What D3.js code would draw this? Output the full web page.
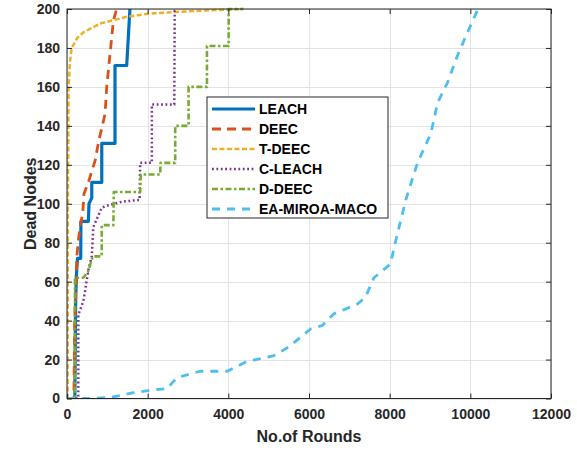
<!DOCTYPE html>
<html>
<head>
<meta charset="utf-8">
<script src="https://cdn.jsdelivr.net/npm/d3@7"></script>
<style>
  body { margin: 0; background: #fff; }
  svg { display: block; font-family: "Liberation Sans", Arial, sans-serif; }
  .tick text { font-size: 14px; font-weight: bold; fill: #262626; }
  .axis-label { font-size: 16px; font-weight: bold; fill: #262626; }
  .legend-label { font-size: 14px; font-weight: bold; fill: #000; }
</style>
</head>
<body>
<div id="draw-space"></div>
<script>
// dead nodes vs rounds
const seriesNames = ['LEACH', 'DEEC', 'T-DEEC', 'C-LEACH', 'D-DEEC', 'EA-MIROA-MACO'];

const leach = [[0,0],[195,0],[205,30],[215,50],[230,62],[260,72],[340,72],[345,91],[530,91],[545,100],
  [614,103],[614,111],[862,111],[862,131],[1190,131],[1190,171],[1480,171],[1560,200]];

const deec = [[0,0],[170,0],[190,40],[230,62],[240,72],[280,81],[340,90],[390,95],[420,105],[530,111],
  [695,122],[795,133],[886,141],[943,146],[985,160],[1150,194],[1230,200]];

const tdeec = [[0,0],[15,0],[22,100],[40,160],[70,172],[117,180],[250,185],[405,188],[820,192.5],
  [1480,196],[2060,197.7],[2700,198.5],[3500,199.3],[4370,200]];

const cleach = [[0,0],[280,0],[281,43],[405,50],[447,55],[529,66],[614,73],[653,88],[862,98],[986,99],
  [1359,101],[1800,102],[1814,121],[2104,121],[2104,151],[2660,151],[2670,199],[2720,200]];

const ddeec = [[0,0],[190,0],[199,62],[405,62],[520,65],[640,73],[860,73],[862,89],[1150,89],[1160,106],
  [1814,106],[1830,115],[2310,115],[2320,121],[2683,121],[2683,140],[3014,140],[3014,160],[3470,160],
  [3470,181],[4008,181],[4008,200],[4370,200]];

const eaMiroa = [[0,0],[500,0],[1070,0.5],[1650,3],[2150,4.5],[2480,5],[2720,10.7],[3300,14],[3970,14],
  [4460,19],[5130,22],[5500,26.5],[6040,35.7],[6330,37.5],[6620,43.5],[7200,48.5],[7400,52],[7610,62],
  [8020,69],[8150,81],[8400,102],[8690,121],[9020,136],[9190,152],[9430,162],[9680,176],[9930,188],
  [10180,199.5],[10300,200]];

const xTicks = [0, 2000, 4000, 6000, 8000, 10000, 12000];
const yTicks = [0, 20, 40, 60, 80, 100, 120, 140, 160, 180, 200];

const allSeries = [leach, deec, tdeec, cleach, ddeec, eaMiroa];
const colors = ['#0072BD', '#D95319', '#EDB120', '#7E2F8E', '#77AC30', '#4DBEEE'];
const widths = [3.2, 2.8, 2.5, 2.5, 2.6, 2.8];
const dashes = ['none', '9,6', '5,2.5', '1.8,2.6', '6,2.5,2.5,2.5', '8,7'];

const W = 577, H = 450;
const margin = {left: 67, right: 26, top: 9, bottom: 52};

const svg = d3.select('#draw-space').append('svg')
              .attr('width', W)
              .attr('height', H);

const xScale = d3.scaleLinear()
                 .domain([0, 12000])
                 .range([margin.left, W - margin.right]);

const yScale = d3.scaleLinear()
                 .domain([0, 200])
                 .range([H - margin.bottom + 0.5, margin.top]);

// grid
svg.append('g')
   .selectAll('line')
   .data(xTicks)
   .enter()
   .append('line')
     .attr('x1', d => Math.round(xScale(d)) + 0.5)
     .attr('x2', d => Math.round(xScale(d)) + 0.5)
     .attr('y1', yScale(0))
     .attr('y2', yScale(200))
     .attr('stroke', '#e3e3e3');

svg.append('g')
   .selectAll('line')
   .data(yTicks)
   .enter()
   .append('line')
     .attr('x1', xScale(0))
     .attr('x2', xScale(12000))
     .attr('y1', d => Math.round(yScale(d)) + 0.5)
     .attr('y2', d => Math.round(yScale(d)) + 0.5)
     .attr('stroke', '#e3e3e3');

const line = d3.line()
               .x(d => xScale(d[0]))
               .y(d => yScale(d[1]));

svg.append('clipPath').attr('id', 'plot-clip')
   .append('rect')
   .attr('x', xScale(0))
   .attr('y', yScale(200) - 2)
   .attr('width', xScale(12000) - xScale(0))
   .attr('height', yScale(0) - yScale(200) + 2);

svg.append('g')
   .attr('clip-path', 'url(#plot-clip)')
   .selectAll('path')
   .data(allSeries)
   .enter()
   .append('path')
     .attr('d', line)
     .attr('fill', 'none')
     .attr('stroke', (d, i) => colors[i])
     .attr('stroke-width', (d, i) => widths[i])
     .attr('stroke-dasharray', (d, i) => dashes[i])
     .attr('stroke-linejoin', 'round');

// axes, ticks inward like matlab
const xAxis = d3.axisBottom(xScale).tickValues(xTicks).tickSize(-5).tickPadding(11).tickFormat(d3.format('d'));
const yAxis = d3.axisLeft(yScale).tickValues(yTicks).tickSize(-5).tickPadding(7).tickFormat(d3.format('d'));

svg.append('g')
   .attr('transform', `translate(0,${yScale(0)})`)
   .call(xAxis)
   .call(g => g.select('.domain').remove());

svg.append('g')
   .attr('transform', `translate(${xScale(0)},0)`)
   .call(yAxis)
   .call(g => g.select('.domain').remove());

svg.append('g')
   .attr('transform', `translate(0,${yScale(200)})`)
   .call(d3.axisTop(xScale).tickValues(xTicks).tickSize(-5).tickFormat(''))
   .call(g => g.select('.domain').remove());

svg.append('g')
   .attr('transform', `translate(${xScale(12000)},0)`)
   .call(d3.axisRight(yScale).tickValues(yTicks).tickSize(-5).tickFormat(''))
   .call(g => g.select('.domain').remove());

svg.selectAll('.tick line').attr('stroke', '#262626');

svg.append('rect')
   .attr('x', xScale(0))
   .attr('y', yScale(200))
   .attr('width', xScale(12000) - xScale(0))
   .attr('height', yScale(0) - yScale(200))
   .attr('fill', 'none')
   .attr('stroke', '#262626')
   .attr('stroke-width', 1);

svg.append('text')
   .attr('class', 'axis-label')
   .attr('x', (xScale(0) + xScale(12000)) / 2)
   .attr('y', 442)
   .attr('text-anchor', 'middle')
   .text('No.of Rounds');

svg.append('text')
   .attr('class', 'axis-label')
   .attr('transform', `translate(36,${(yScale(0) + yScale(200)) / 2}) rotate(-90)`)
   .attr('text-anchor', 'middle')
   .text('Dead Nodes');

// legend
const legend = svg.append('g')
                  .attr('transform', 'translate(207,97)');

legend.append('rect')
      .attr('width', 181)
      .attr('height', 121)
      .attr('fill', '#fff')
      .attr('stroke', '#262626');

const legendItems = legend.selectAll('.legend-item')
                          .data(seriesNames)
                          .enter()
                          .append('g')
                          .attr('transform', (d, i) => `translate(0,${12 + i * 20})`);

legendItems.append('line')
           .attr('x1', 5)
           .attr('x2', 48)
           .attr('stroke', (d, i) => colors[i])
           .attr('stroke-width', (d, i) => widths[i])
           .attr('stroke-dasharray', (d, i) => dashes[i]);

legendItems.append('text')
           .attr('class', 'legend-label')
           .attr('x', 52)
           .attr('y', 5)
           .text(d => d);
</script>
</body>
</html>
